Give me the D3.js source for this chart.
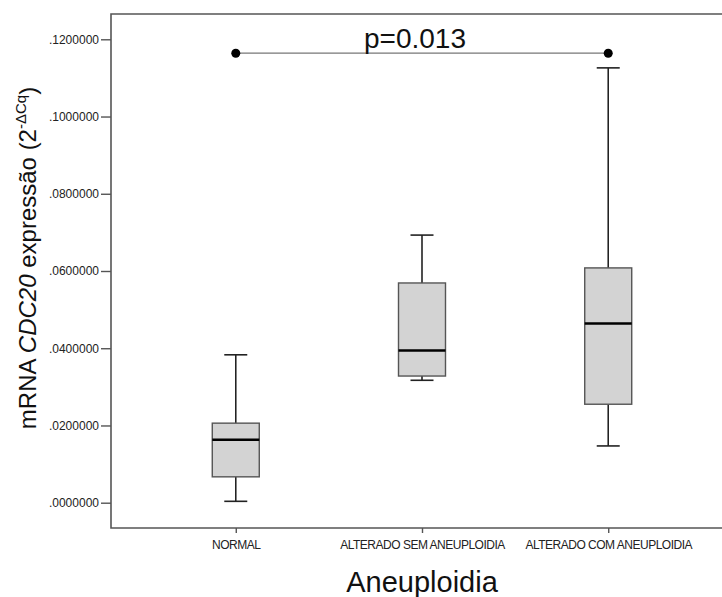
<!DOCTYPE html>
<html>
<head>
<meta charset="utf-8">
<script src="https://cdn.jsdelivr.net/npm/d3@7"></script>
<style>
  html, body { margin: 0; padding: 0; background: #fff; }
  svg { display: block; }
</style>
</head>
<body>
<div id="chart"></div>
<script>
// Groups and five-number summaries of CDC20 mRNA expression (2^-ΔCq)
const categories = ["NORMAL", "ALTERADO SEM ANEUPLOIDIA", "ALTERADO COM ANEUPLOIDIA"];
const whiskerLow  = [0.00036, 0.0317, 0.0147];
const q1          = [0.0067, 0.0328, 0.0255];
const median      = [0.0163, 0.0394, 0.0464];
const q3          = [0.0206, 0.0569, 0.0608];
const whiskerHigh = [0.0383, 0.0693, 0.1126];
const yTicks = [0, 0.02, 0.04, 0.06, 0.08, 0.10, 0.12];

// Pairwise comparison shown above the boxes
const comparison = { from: "NORMAL", to: "ALTERADO COM ANEUPLOIDIA", level: 0.1164, label: "p=0.013" };

const W = 722, H = 597;
const margin = { top: 14, right: -11, bottom: 69, left: 111 };

const svg = d3.select("#chart").append("svg")
  .attr("width", W).attr("height", H);

const x = d3.scalePoint()
  .domain(categories)
  .range([margin.left, W - margin.right])
  .padding(0.67);

const y = d3.scaleLinear()
  .domain([-0.00655, 0.12655])
  .range([H - margin.bottom, margin.top]);

const axisColor = "#555";

// Frame: left, top, bottom
const x0 = margin.left, x1 = W - margin.right, yTop = margin.top, yBot = H - margin.bottom;
svg.append("path")
  .attr("d", `M${x1},${yTop}H${x0}V${yBot}H${x1}`)
  .attr("fill", "none").attr("stroke", axisColor).attr("stroke-width", 1.6);

// Y axis
const fmt = v => d3.format(".7f")(v).replace(/^0/, "");
const yAxis = svg.append("g")
  .attr("transform", `translate(${x0},0)`)
  .call(d3.axisLeft(y).tickValues(yTicks).tickFormat(fmt).tickSize(10).tickPadding(2));
yAxis.select(".domain").remove();
yAxis.selectAll(".tick line").attr("stroke", axisColor).attr("stroke-width", 1.4);
yAxis.selectAll(".tick text")
  .attr("font-family", "Liberation Sans, Arial, sans-serif")
  .attr("font-size", 12).attr("fill", "#222");

// X axis
const xAxis = svg.append("g")
  .attr("transform", `translate(0,${yBot})`)
  .call(d3.axisBottom(x).tickSize(5).tickPadding(7));
xAxis.select(".domain").remove();
xAxis.selectAll(".tick line").attr("stroke", axisColor).attr("stroke-width", 1.4);
xAxis.selectAll(".tick text")
  .attr("font-family", "Liberation Sans, Arial, sans-serif")
  .attr("font-size", 12).attr("fill", "#222")
  .attr("letter-spacing", -0.5);

// Boxplots
const boxW = 47, capW = 23;
const data = categories.map((c, i) => ({
  cat: c, lo: whiskerLow[i], q1: q1[i], med: median[i], q3: q3[i], hi: whiskerHigh[i]
}));

const g = svg.append("g").selectAll("g").data(data).join("g")
  .attr("transform", d => `translate(${x(d.cat)},0)`);

// whisker stems
g.append("line").attr("x1", 0).attr("x2", 0)
  .attr("y1", d => y(d.q3)).attr("y2", d => y(d.hi))
  .attr("stroke", "#222").attr("stroke-width", 1.6);
g.append("line").attr("x1", 0).attr("x2", 0)
  .attr("y1", d => y(d.q1)).attr("y2", d => y(d.lo))
  .attr("stroke", "#222").attr("stroke-width", 1.6);
// caps
g.append("line").attr("x1", -capW / 2).attr("x2", capW / 2)
  .attr("y1", d => y(d.hi)).attr("y2", d => y(d.hi))
  .attr("stroke", "#222").attr("stroke-width", 1.6);
g.append("line").attr("x1", -capW / 2).attr("x2", capW / 2)
  .attr("y1", d => y(d.lo)).attr("y2", d => y(d.lo))
  .attr("stroke", "#222").attr("stroke-width", 1.6);
// boxes
g.append("rect")
  .attr("x", -boxW / 2).attr("width", boxW)
  .attr("y", d => y(d.q3)).attr("height", d => y(d.q1) - y(d.q3))
  .attr("fill", "#d3d3d3").attr("stroke", "#555").attr("stroke-width", 1.4);
// medians
g.append("line").attr("x1", -boxW / 2).attr("x2", boxW / 2)
  .attr("y1", d => y(d.med)).attr("y2", d => y(d.med))
  .attr("stroke", "#000").attr("stroke-width", 2.6);

// Significance bracket
const cx1 = x(comparison.from), cx2 = x(comparison.to), cy = y(comparison.level);
svg.append("line")
  .attr("x1", cx1).attr("x2", cx2).attr("y1", cy).attr("y2", cy)
  .attr("stroke", "#777").attr("stroke-width", 1.2);
svg.selectAll("circle.end").data([cx1, cx2]).join("circle")
  .attr("class", "end").attr("cx", d => d).attr("cy", cy).attr("r", 4.5).attr("fill", "#000");
svg.append("text")
  .attr("x", (cx1 + cx2) / 2 - 7).attr("y", cy - 5.5)
  .attr("text-anchor", "middle")
  .attr("font-family", "Liberation Sans, Arial, sans-serif")
  .attr("font-size", 28).attr("fill", "#111")
  .text(comparison.label);

// Axis titles
svg.append("text")
  .attr("x", (x(categories[0]) + x(categories[2])) / 2)
  .attr("y", 592)
  .attr("text-anchor", "middle")
  .attr("font-family", "Liberation Sans, Arial, sans-serif")
  .attr("font-size", 29).attr("fill", "#111")
  .text("Aneuploidia");

const yt = svg.append("text")
  .attr("transform", `translate(36,258) rotate(-90)`)
  .attr("text-anchor", "middle")
  .attr("font-family", "Liberation Sans, Arial, sans-serif")
  .attr("font-size", 24).attr("fill", "#111");
yt.append("tspan").text("mRNA ");
yt.append("tspan").attr("font-style", "italic").text("CDC20");
yt.append("tspan").text(" expressão (2");
yt.append("tspan").attr("font-size", 15).attr("dy", -10).text("-ΔCq");
yt.append("tspan").attr("dy", 10).text(")");
</script>
</body>
</html>
